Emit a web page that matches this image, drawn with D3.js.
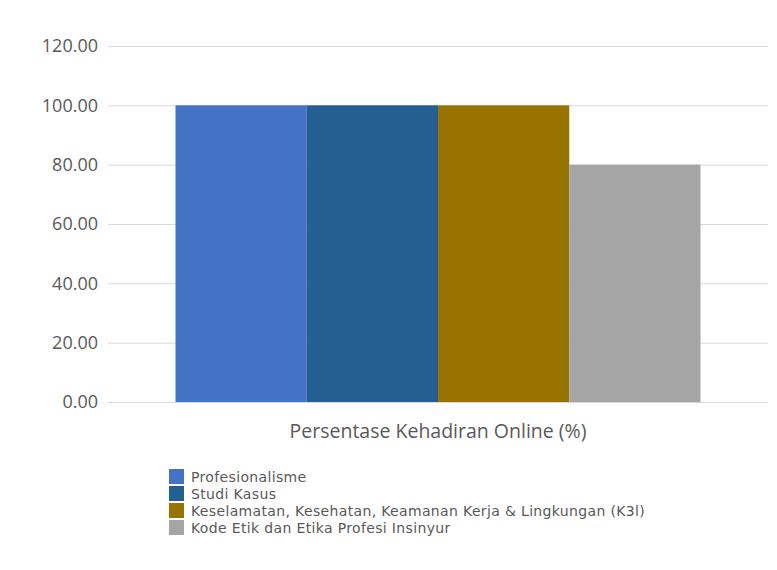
<!DOCTYPE html>
<html><head><meta charset="utf-8">
<script src="https://cdn.jsdelivr.net/npm/d3@7/dist/d3.min.js"></script>
<style>body{margin:0;background:#fff}svg{display:block}text{font-family:"Open Sans",sans-serif}</style>
</head><body><svg id="c" width="777" height="570"></svg>
<script>
const categories = ["Persentase Kehadiran Online (%)"];
const seriesNames = ["Profesionalisme","Studi Kasus","Keselamatan, Kesehatan, Keamanan Kerja & Lingkungan (K3l)","Kode Etik dan Etika Profesi Insinyur"];
const seriesValues = [100, 100, 100, 80];
const seriesColors = ["#4472C4","#255E91","#997300","#A5A5A5"];
const yTicks = [0,20,40,60,80,100,120];

const svg = d3.select("#c");
const pL = 108, pR = 768, pT = 46, pB = 402;
const y = d3.scaleLinear().domain([0,120]).range([pB, pT]);
const x0 = d3.scaleBand().domain(categories).range([pL, pR]).paddingInner(0).paddingOuter(0.1286);
const x1 = d3.scaleBand().domain(seriesNames).range([0, x0.bandwidth()]).padding(0);

const yAxis = d3.axisLeft(y).tickValues(yTicks).tickFormat(d3.format(".2f")).tickSize(-(pR-pL)).tickPadding(10);
const g = svg.append("g").attr("transform",`translate(${pL},0)`).call(yAxis);
g.select(".domain").remove();
g.selectAll(".tick line").attr("stroke","#D9D9D9").attr("stroke-width",1);
g.selectAll(".tick text").attr("fill","#595959").attr("font-size",18).attr("x",-10);

const cat = svg.append("g").selectAll("g").data(categories).join("g")
  .attr("transform", d=>`translate(${x0(d)},0)`);
cat.selectAll("rect").data(seriesNames.map((n,i)=>({n,v:seriesValues[i],c:seriesColors[i]}))).join("rect")
  .attr("x", d=>x1(d.n)).attr("width", x1.bandwidth())
  .attr("y", d=>y(d.v)).attr("height", d=>y(0)-y(d.v)).attr("fill", d=>d.c);

svg.append("g").selectAll("text").data(categories).join("text")
  .attr("x", d=>x0(d)+x0.bandwidth()/2).attr("y", 438).attr("text-anchor","middle")
  .attr("fill","#595959").attr("font-size",19.5).text(d=>d);

const lg = svg.append("g").attr("transform","translate(169,469)");
const items = lg.selectAll("g").data(seriesNames.map((n,i)=>({n,c:seriesColors[i]}))).join("g")
  .attr("transform",(d,i)=>`translate(0,${i*17})`);
items.append("rect").attr("width",15).attr("height",15).attr("fill",d=>d.c);
items.append("text").attr("x",22).attr("y",13).attr("font-size",14).attr("letter-spacing",0.35)
  .style("font-family","'DejaVu Sans',sans-serif").attr("fill","#595959").text(d=>d.n);
</script></body></html>
